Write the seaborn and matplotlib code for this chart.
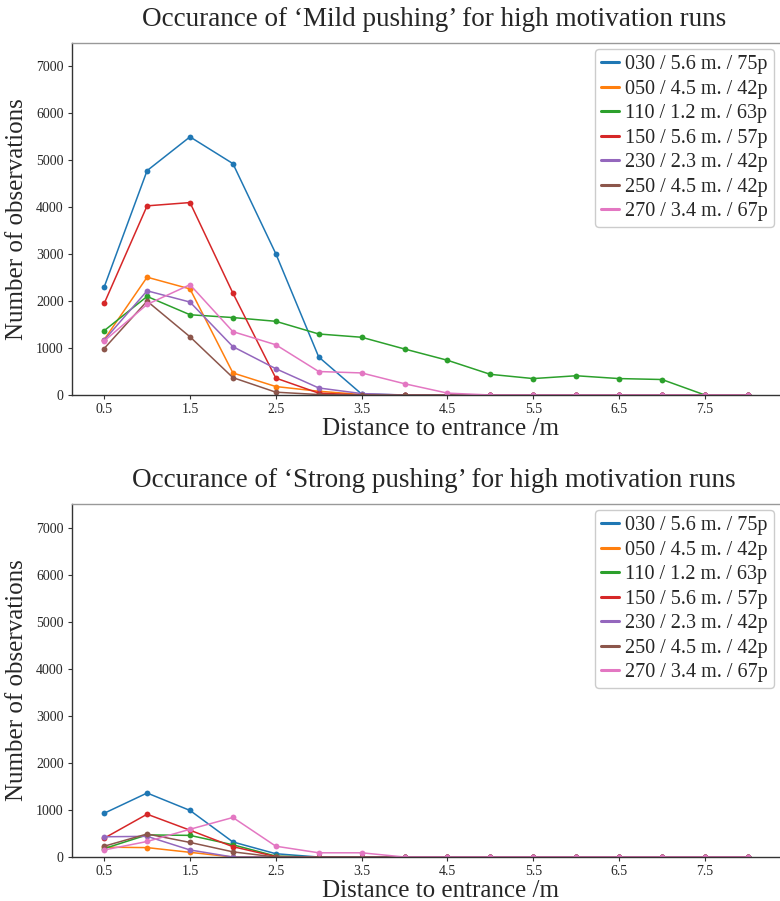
import numpy as np
import pandas as pd
import seaborn as sns
import matplotlib
matplotlib.use("Agg")
import matplotlib.pyplot as plt
from matplotlib.lines import Line2D

# Distance bins (m) from the entrance
distance = [0.5, 1.0, 1.5, 2.0, 2.5, 3.0, 3.5, 4.0, 4.5, 5.0, 5.5, 6.0, 6.5, 7.0, 7.5, 8.0]

run_labels = [
    "030 / 5.6 m. / 75p",
    "050 / 4.5 m. / 42p",
    "110 / 1.2 m. / 63p",
    "150 / 5.6 m. / 57p",
    "230 / 2.3 m. / 42p",
    "250 / 4.5 m. / 42p",
    "270 / 3.4 m. / 67p",
]

# Mild pushing counts per run
mild_030 = [2300, 4780, 5500, 4930, 3010, 810, 20, 0, 0, 0, 0, 0, 0, 0, 0, 0]
mild_050 = [1180, 2510, 2260, 470, 180, 80, 10, 0, 0, 0, 0, 0, 0, 0, 0, 0]
mild_110 = [1370, 2100, 1710, 1650, 1570, 1300, 1230, 980, 740, 440, 350, 410, 350, 330, 0, 0]
mild_150 = [1950, 4030, 4100, 2170, 360, 40, 0, 0, 0, 0, 0, 0, 0, 0, 0, 0]
mild_230 = [1170, 2220, 1980, 1030, 560, 150, 30, 0, 0, 0, 0, 0, 0, 0, 0, 0]
mild_250 = [990, 2000, 1240, 370, 60, 10, 0, 0, 0, 0, 0, 0, 0, 0, 0, 0]
mild_270 = [1150, 1930, 2350, 1350, 1070, 500, 470, 240, 40, 0, 0, 0, 0, 0, 0, 0]

# Strong pushing counts per run
strong_030 = [930, 1360, 990, 320, 70, 0, 0, 0, 0, 0, 0, 0, 0, 0, 0, 0]
strong_050 = [210, 200, 100, 0, 0, 0, 0, 0, 0, 0, 0, 0, 0, 0, 0, 0]
strong_110 = [180, 470, 460, 260, 20, 0, 0, 0, 0, 0, 0, 0, 0, 0, 0, 0]
strong_150 = [400, 910, 570, 220, 10, 0, 0, 0, 0, 0, 0, 0, 0, 0, 0, 0]
strong_230 = [430, 440, 150, 0, 0, 0, 0, 0, 0, 0, 0, 0, 0, 0, 0, 0]
strong_250 = [230, 490, 310, 110, 0, 0, 0, 0, 0, 0, 0, 0, 0, 0, 0, 0]
strong_270 = [150, 330, 590, 840, 230, 90, 90, 0, 0, 0, 0, 0, 0, 0, 0, 0]

mild = [mild_030, mild_050, mild_110, mild_150, mild_230, mild_250, mild_270]
strong = [strong_030, strong_050, strong_110, strong_150, strong_230, strong_250, strong_270]

x_ticks = [0.5, 1.5, 2.5, 3.5, 4.5, 5.5, 6.5, 7.5]
y_ticks = [0, 1000, 2000, 3000, 4000, 5000, 6000, 7000]


def long_frame(series):
    rows = []
    for label, vals in zip(run_labels, series):
        for d, v in zip(distance, vals):
            rows.append({"distance": d, "count": v, "run": label})
    return pd.DataFrame(rows)


sns.set_style("white")
plt.rcParams["font.family"] = ["Liberation Serif", "DejaVu Serif"]

palette = sns.color_palette("tab10", len(run_labels))

fig = plt.figure(figsize=(7.8, 9.01), dpi=100)
ax_top = fig.add_axes([0.0923, 0.5616, 0.9077, 0.3907])
ax_bot = fig.add_axes([0.0923, 0.0488, 0.9077, 0.3918])

panels = [
    (ax_top, mild, "Occurance of \u2018Mild pushing\u2019 for high motivation runs"),
    (ax_bot, strong, "Occurance of \u2018Strong pushing\u2019 for high motivation runs"),
]

for ax, series, title in panels:
    df = long_frame(series)
    sns.lineplot(
        data=df, x="distance", y="count", hue="run", hue_order=run_labels,
        palette=palette, marker="o", markersize=4.2, markeredgewidth=0,
        linewidth=1.1, ax=ax, legend=False, errorbar=None,
    )
    ax.set_ylim(0, 7500)
    ax.set_xticks(x_ticks)
    ax.set_xticklabels([f"{t:g}" for t in x_ticks])
    ax.set_yticks(y_ticks)
    ax.tick_params(axis="both", labelsize=10, length=3, width=0.8,
                   color="#333333", pad=3, bottom=True, left=True)
    ax.set_xlabel("Distance to entrance /m", fontsize=18, labelpad=1, x=0.52)
    ax.set_ylabel("Number of observations", fontsize=18, labelpad=6)
    ax.set_title(title, fontsize=19.5, pad=12, x=0.511)
    for side in ("left", "bottom"):
        ax.spines[side].set_color("#333333")
        ax.spines[side].set_linewidth(1.0)
    ax.spines["top"].set_color("#999999")
    ax.spines["top"].set_linewidth(1.0)
    ax.spines["right"].set_visible(False)

    handles = [Line2D([], [], color=c, lw=2.2) for c in palette]
    ax.legend(handles, run_labels, loc="upper right", fontsize=14.5,
              handlelength=0.9, handletextpad=0.3, labelspacing=0.27,
              borderpad=0.3, borderaxespad=0.3, frameon=True,
              fancybox=True, edgecolor="#cccccc", framealpha=1.0)

fig.savefig("out.png", dpi=100)
